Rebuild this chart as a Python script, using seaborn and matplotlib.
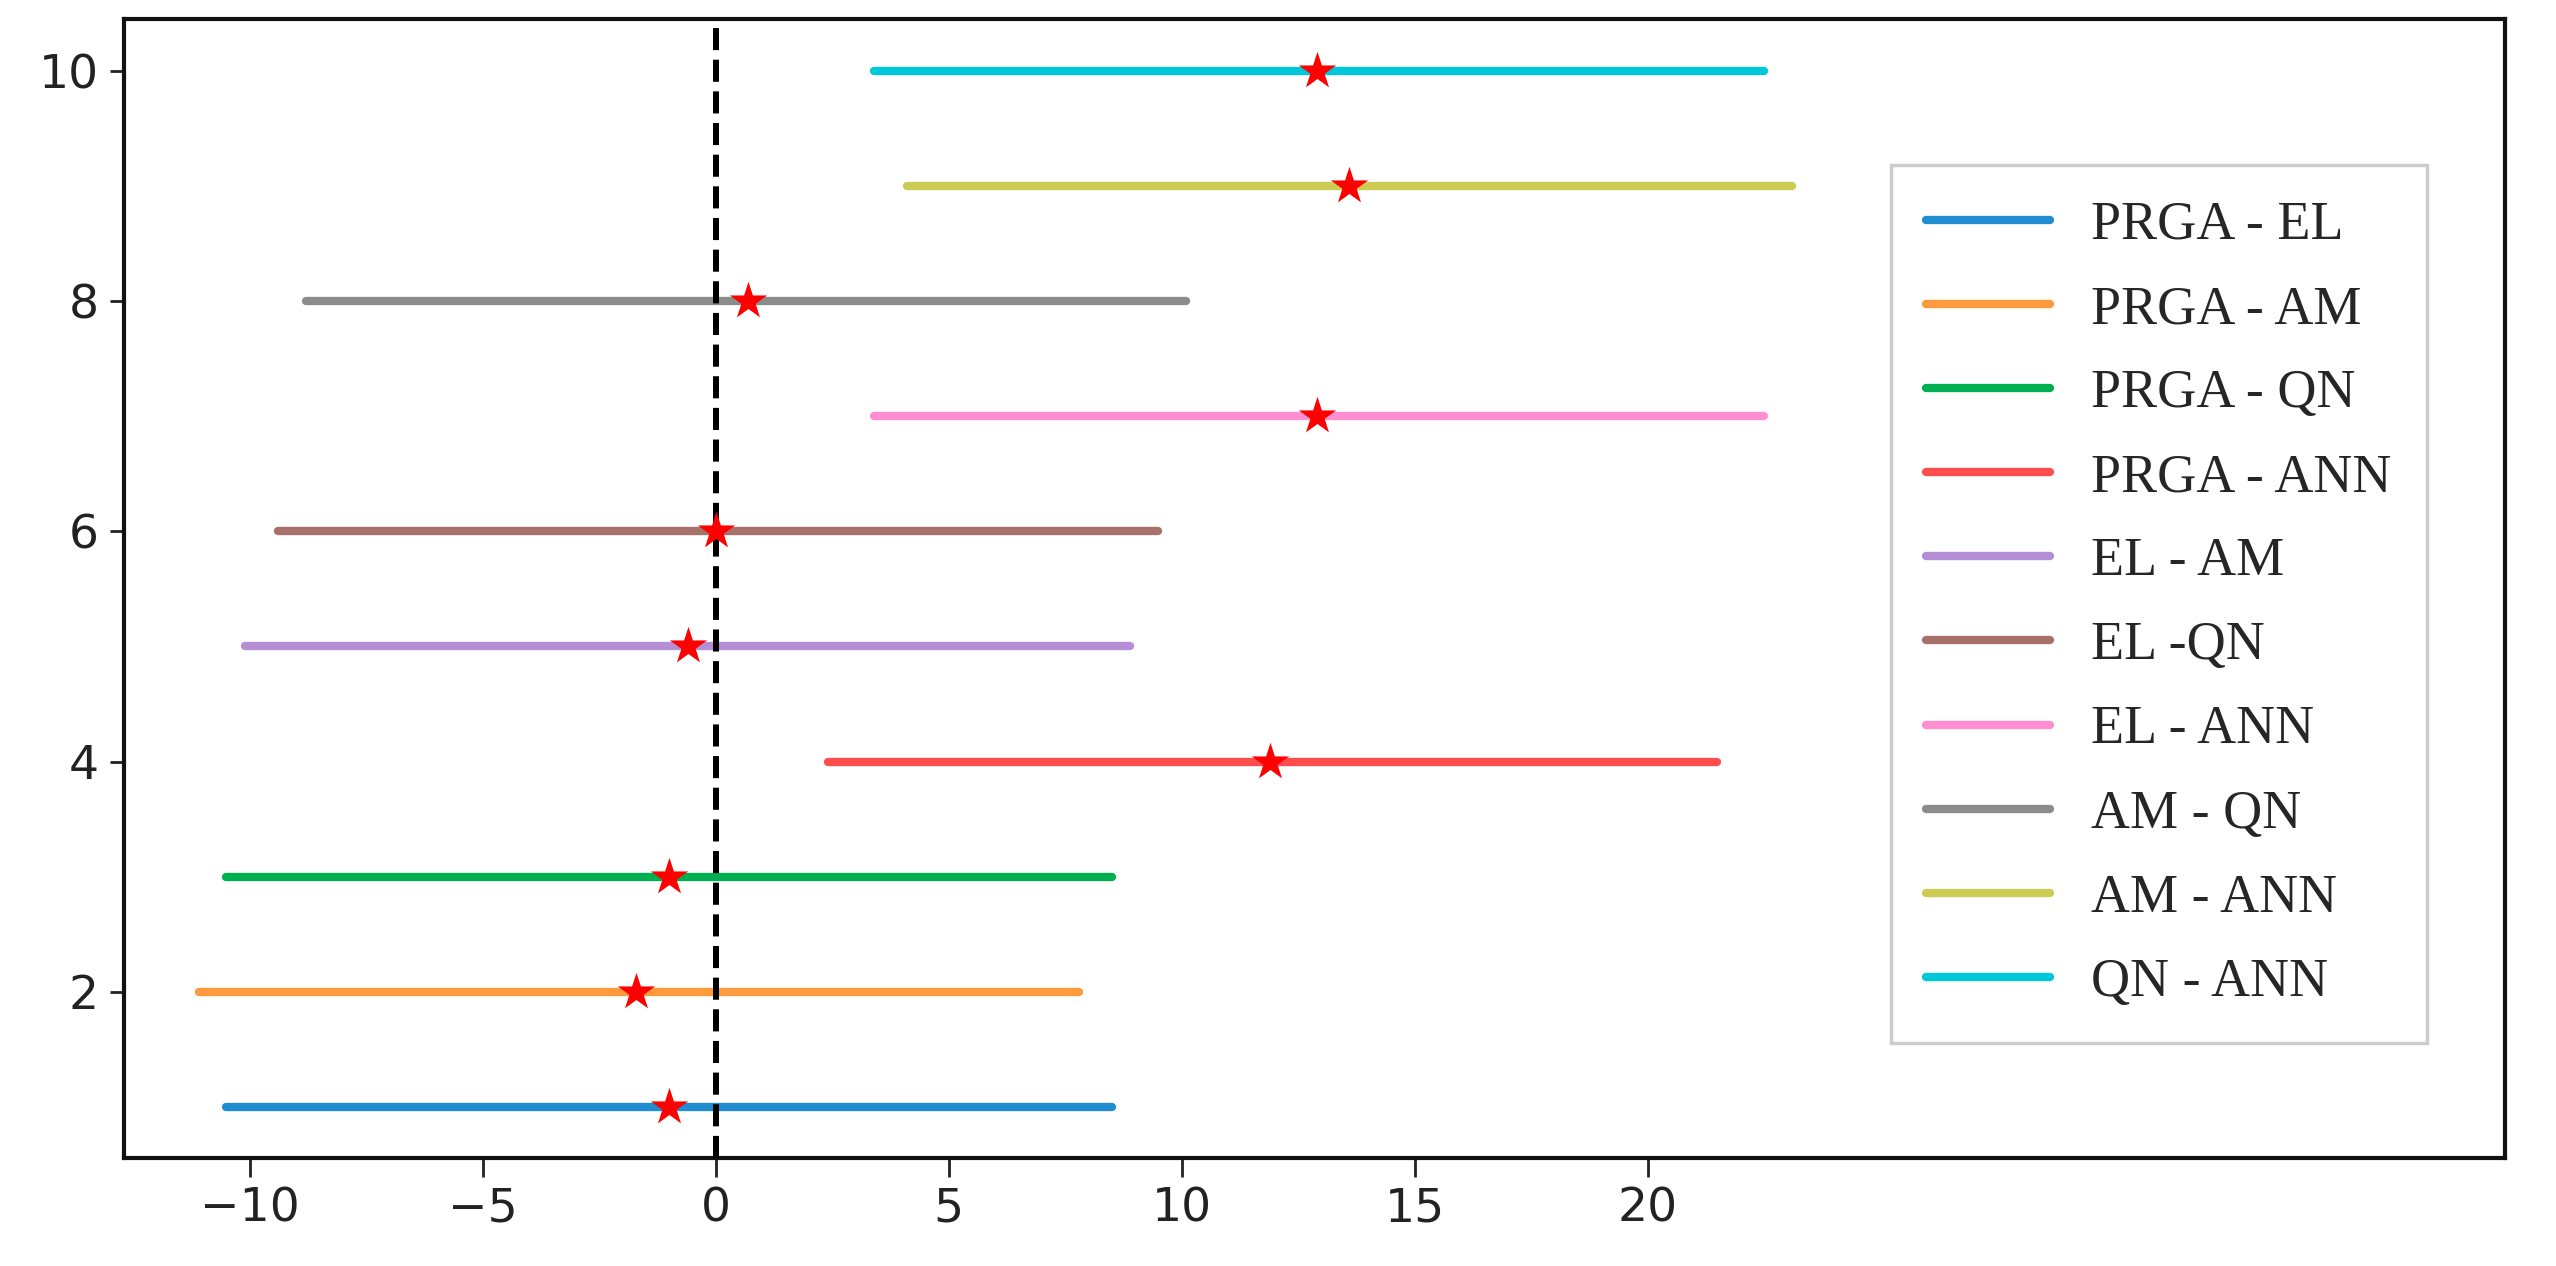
import numpy as np
import pandas as pd
import matplotlib
matplotlib.use("Agg")
import matplotlib.pyplot as plt
import seaborn as sns

# comparisons, confidence interval bounds and mean differences
labels = ["PRGA - EL", "PRGA - AM", "PRGA - QN", "PRGA - ANN", "EL - AM",
          "EL -QN", "EL - ANN", "AM - QN", "AM - ANN", "QN - ANN"]
rows = [1, 2, 3, 4, 5, 6, 7, 8, 9, 10]
lower = [-10.5, -11.1, -10.5, 2.4, -10.1, -9.4, 3.4, -8.8, 4.1, 3.4]
upper = [8.5, 7.8, 8.5, 21.5, 8.9, 9.5, 22.5, 10.1, 23.1, 22.5]
means = [-1.0, -1.7, -1.0, 11.9, -0.6, 0.0, 12.9, 0.7, 13.6, 12.9]

xticks = [-10, -5, 0, 5, 10, 15, 20]
yticks = [2, 4, 6, 8, 10]

# line colours as they appear in the picture (brighter than plain tab10)
colors = ["#1f8dcf", "#ff9a3c", "#00b050", "#ff4d4d", "#b48fd6",
          "#a8706a", "#ff8fd0", "#8c8c8c", "#cccc55", "#00c8d8"]

sns.set_style("ticks")

# long-form table: two endpoints for each interval
seg = pd.DataFrame({
    "x": lower + upper,
    "y": rows + rows,
    "pair": labels + labels,
})
pts = pd.DataFrame({"x": means, "y": rows})

fig, ax = plt.subplots(figsize=(25.56, 12.66), dpi=100)
fig.subplots_adjust(left=0.0485, right=0.980, top=0.9846, bottom=0.085)

sns.lineplot(data=seg, x="x", y="y", hue="pair", hue_order=labels,
             palette=colors, estimator=None, sort=False, linewidth=6,
             legend=False, ax=ax)
ax.axvline(0, color="black", linestyle="--", linewidth=4.3, zorder=3)
sns.scatterplot(data=pts, x="x", y="y", marker="*", color="red", s=800,
                edgecolor="red", linewidth=0, zorder=4, ax=ax)

ax.set_xlim(-12.7, 38.4)
ax.set_ylim(0.55, 10.45)
ax.set_xticks(xticks)
ax.set_yticks(yticks)
ax.set_xlabel("")
ax.set_ylabel("")
ax.tick_params(labelsize=34, width=2, colors="#222222")
ax.tick_params(axis="x", length=14, pad=6)
ax.tick_params(axis="y", length=10, pad=8)
for sp in ax.spines.values():
    sp.set_visible(True)
    sp.set_linewidth(3)
    sp.set_color("#111111")

handles = ax.lines[:10]
leg = ax.legend(handles, labels, loc="upper left", bbox_to_anchor=(0.742, 0.872),
                borderaxespad=0,
                prop={"family": ["Liberation Serif", "DejaVu Serif"], "size": 39},
                handlelength=2.3, handletextpad=0.75, labelspacing=0.62,
                borderpad=0.65, fancybox=False, framealpha=1, edgecolor="#cccccc")
leg.get_frame().set_linewidth(2.5)

fig.savefig("out.png", dpi=100)
